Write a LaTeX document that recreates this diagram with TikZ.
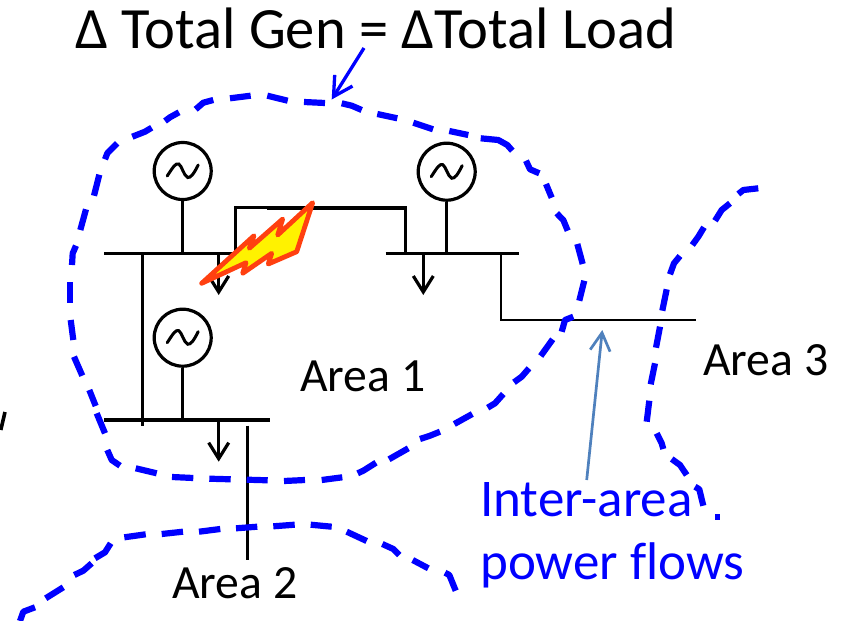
\documentclass[tikz,border=0pt]{standalone}
\usepackage{fontspec}
\setmainfont{Carlito}
\usetikzlibrary{arrows.meta,calc}
\definecolor{dashblue}{RGB}{0,0,255}
\definecolor{flowblue}{RGB}{79,129,189}
\definecolor{boltred}{RGB}{255,64,16}
\tikzset{
  x=1pt,y=-1pt,
  areadash/.style={draw=dashblue,line width=6.2pt,line join=round},
  gen/.style={circle,draw=black,line width=3.2pt,minimum size=57pt,inner sep=0pt,fill=white},
  bus/.style={draw=black,line width=3.2pt},
  wire/.style={draw=black,line width=3pt},
  thinwire/.style={draw=black,line width=2.6pt,line join=miter},
  load/.style={draw=black,line width=3.2pt,-{Straight Barb[length=16pt,width=20pt,line width=3.2pt]}},
  label/.style={anchor=base west,inner sep=0pt,font=\fontsize{47.7}{48}\selectfont},
  title/.style={anchor=base west,inner sep=0pt,font=\fontsize{58.5}{58}\selectfont},
  bluelabel/.style={label,text=dashblue,font=\fontsize{53}{53}\selectfont}
}
\newcommand{\sinewave}[1]{\draw[line width=3pt,line cap=round] ($(#1)+(-15.5,5)$) .. controls ($(#1)+(-9,-5)$) and ($(#1)+(-7,-8)$) .. ($(#1)+(-4,-7)$) .. controls ($(#1)+(-1,-6)$) and ($(#1)+(1,5)$) .. ($(#1)+(5,6.5)$) .. controls ($(#1)+(8,7)$) and ($(#1)+(11,3)$) .. ($(#1)+(15.5,-6)$);}
\begin{document}
\begin{tikzpicture}
\useasboundingbox (0,0) rectangle (844,621);
\fill[white] (0,0) rectangle (844,621);

% buses and junctions
\coordinate (b1w) at (104,253.3); \coordinate (b1e) at (240,253.3);
\coordinate (b2w) at (385.7,253.7); \coordinate (b2e) at (519.3,253.7);
\coordinate (b3w) at (104,420); \coordinate (b3e) at (270,420);
\coordinate (b1t) at (235.3,253.3); \coordinate (l1) at (235.3,207.7);
\coordinate (l2) at (267,207.7); \coordinate (l3) at (407,207.7);
\coordinate (l4) at (405,207.7); \coordinate (b2t) at (405,253.7);
\coordinate (tie1) at (142,253.3); \coordinate (tie2) at (142,425.5);
\coordinate (a2t) at (247.7,425.7); \coordinate (a2b) at (247.7,560);
\coordinate (a3a) at (501,253.7); \coordinate (a3b) at (501,320); \coordinate (a3c) at (695.7,320);
\coordinate (ld1a) at (218.7,253.3); \coordinate (ld1b) at (218.7,295);
\coordinate (ld2a) at (423.3,253.7); \coordinate (ld2b) at (423.3,295);
\coordinate (ld3a) at (218.7,420); \coordinate (ld3b) at (218.7,461.7);
\coordinate (f1) at (586.7,480); \coordinate (f2) at (602.3,330);
\coordinate (t1) at (364,48); \coordinate (t2) at (331.7,99.5);

% generators
\node[gen] (g1) at (182.7,171) {};
\node[gen] (g2) at (182.7,337.7) {};
\node[gen] (g3) at (446.7,171.7) {};
\sinewave{g1}\sinewave{g2}\sinewave{g3}

\draw[wire] (g1.south) -- (g1.south |- b1w);
\draw[wire] (g2.south) -- (g2.south |- b3w);
\draw[wire] (g3.south) -- (g3.south |- b2w);
\draw[bus] (b1w) -- (b1e);
\draw[bus] (b2w) -- (b2e);
\draw[bus] (b3w) -- (b3e);
\draw[wire] (tie1) -- (tie2);
\draw[wire] (b1t) -- (l1) -- (l2);
\draw[line width=4.2pt] (l2) -- (l3);
\draw[wire] (l4) -- (b2t);
\draw[wire,line width=3.4pt] (a2t) -- (a2b);
\draw[thinwire] (a3a) -- (a3b) -- (a3c);
\draw[load] (ld1a) -- (ld1b);
\draw[load] (ld2a) -- (ld2b);
\draw[load] (ld3a) -- (ld3b);

% bolt
\filldraw[draw=boltred,fill=yellow,line width=4.8pt,line join=round]
 (312.7,202.7) -- (296.7,251.7) -- (268.3,264) -- (271.7,253.3) -- (242.7,273.3) -- (246,262.7) -- (201.7,283.3)
 -- (254,235.7) -- (249.3,248.3) -- (282.7,219) -- (277.7,235) -- cycle;

% area boundaries
\foreach \p in {
 {(82.3,375.7) -- (74,356.7)},
 {(73.3,340) -- (70.7,320)},
 {(70.3,302.7) -- (70.3,282)},
 {(72,265) -- (72.7,253.3) -- (76,245.7)},
 {(80.3,230) -- (86,209.3)},
 {(94,195.7) -- (99.3,174.7)},
 {(105,159.3) -- (107.3,153.3) -- (117.3,143.3)},
 {(132.3,136.7) -- (145,131.7) -- (151.7,127.7)},
 {(165,121) -- (170,117.3) -- (179,112.3)},
 {(195.7,109.3) -- (203.3,102.7) -- (213.3,100)},
 {(230,98.3) -- (250.7,95.7)},
 {(267.3,95.7) -- (287.7,100.7)},
 {(304,102) -- (325,103)},
 {(341.7,103.3) -- (351.7,105.7) -- (361.7,110)},
 {(377.3,114) -- (397.3,118.3)},
 {(413.3,122.7) -- (433,129.3)},
 {(449.3,131) -- (468.3,135)},
 {(480.7,138.3) -- (498.3,140) -- (507.3,145) -- (512.3,150.7)},
 {(526,160.7) -- (530,169.3) -- (539.3,173.3)},
 {(546,184) -- (551.7,197.7)},
 {(556.7,213.3) -- (563.3,220) -- (567.7,230.7)},
 {(577.3,244) -- (582.7,264)},
 {(584.3,280.7) -- (579.3,300.7)},
 {(573.3,316.7) -- (565,320) -- (561.7,331.7)},
 {(552.7,339.3) -- (540.7,356)},
 {(529,368.3) -- (521.7,376.7) -- (514,382.3)},
 {(503.3,394) -- (495,403.3) -- (487.7,407.7)},
 {(472.3,414) -- (454.3,424)},
 {(440,431.7) -- (430,435.7) -- (420,439)},
 {(408.3,448.3) -- (389,459.3)},
 {(376,462.7) -- (363.3,470.7) -- (357.7,473.3)},
 {(342.3,477.3) -- (321.7,480)},
 {(305,480) -- (284,481)},
 {(267.7,480.3) -- (246.7,479.7)},
 {(230.7,479.3) -- (209.3,478.7)},
 {(193.3,478) -- (172,477)},
 {(156.7,473.3) -- (135.7,468.3)},
 {(120,465.7) -- (111.7,460) -- (107.3,450)},
 {(105,433.3) -- (96.7,413.3)},
 {(95.7,406) -- (89.3,390)},
 {(20,621) -- (23.3,611.7) -- (35,607.3)},
 {(45.7,598.3) -- (63.3,587.3)},
 {(74.3,575) -- (83.3,570.7) -- (91.7,563.3)},
 {(95,558.3) -- (105,552.3) -- (110.7,543.3)},
 {(124.3,537.3) -- (145.7,534.3)},
 {(161.7,534) -- (183,531.7)},
 {(199,531.7) -- (220.3,529)},
 {(236,528.3) -- (257.3,526.7)},
 {(273.3,526.3) -- (294.7,524.7)},
 {(310.7,524.7) -- (331.7,526.7)},
 {(346.7,531.7) -- (366.7,541)},
 {(382.3,544) -- (393.3,549) -- (399.3,555)},
 {(412.7,560) -- (428.3,568.3)},
 {(445,572.7) -- (449.3,575) -- (455.7,590.7)},
 {(758.3,188.3) -- (743.3,190) -- (738.3,194)},
 {(730,203.3) -- (721.7,210) -- (715,220.7)},
 {(704,227.3) -- (698.3,236.7) -- (692.3,245)},
 {(680,256) -- (674,263.3) -- (670,274.3)},
 {(666.7,289.3) -- (662.3,310.7)},
 {(660,326.7) -- (656,347.7)},
 {(655,363.3) -- (650.7,384.3)},
 {(649.3,400.7) -- (646.7,421.7)},
 {(656.7,433.3) -- (661.7,443.3) -- (663.3,449)},
 {(671.7,459) -- (680,465) -- (686.7,475)},
 {(695,486.7) -- (699.3,489.3) -- (703.3,505.7)},
 {(715,516.7) -- (720,516.7)}
}{ \draw[areadash] \p; }

% annotation arrows
\draw[draw=dashblue,line width=3.3pt,-{Straight Barb[length=19pt,width=21pt,line width=3.3pt]}] (t1) -- (t2);
\draw[draw=flowblue,line width=2.7pt,-{Straight Barb[length=18pt,width=20pt,line width=2.7pt]}] (f1) -- (f2);

% fragment of cut-off text at the left edge
\draw[line width=3.6pt] (5,412) -- (0.8,430);

% labels
\node[title] (ttl) at (75,48) {Δ Total Gen = ΔTotal Load};
\node[label] (a1) at (300,391) {Area 1};
\node[label] (a2) at (172,598) {Area 2};
\node[label] (a3) at (703,375) {Area 3};
\node[bluelabel] (ia) at (480,516) {Inter-area};
\node[bluelabel] (pf) at (480,579) {power f\kern0pt lows};
\end{tikzpicture}
\end{document}
